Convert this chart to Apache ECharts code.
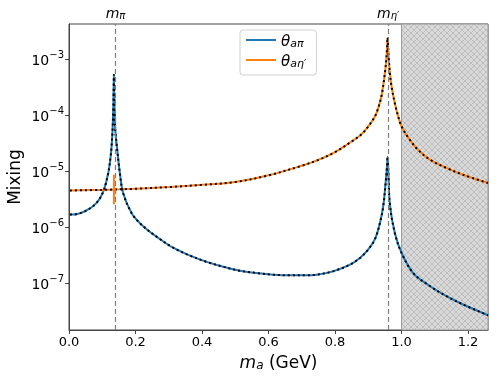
<!DOCTYPE html>
<html>
<head>
<meta charset="utf-8">
<script src="https://cdn.jsdelivr.net/npm/echarts@6/dist/echarts.min.js"></script>
<style>
html,body{margin:0;padding:0;background:#fff;}
#main{width:498px;height:380px;}
</style>
</head>
<body>
<div id="main"></div>
<script>
// axion - pion mixing (blue)
var piMass = [0.003, 0.010, 0.048, 0.083, 0.103, 0.118, 0.125, 0.128, 0.131, 0.133, 0.134, 0.135,
	0.136, 0.137, 0.139, 0.143, 0.153, 0.163, 0.188, 0.213, 0.24, 0.26, 0.313, 0.364, 0.414,
	0.464, 0.514, 0.564, 0.614, 0.664, 0.714, 0.745, 0.794, 0.845, 0.875, 0.900, 0.920, 0.935,
	0.945, 0.953, 0.956, 0.958, 0.960, 0.965, 0.980, 1.000, 1.035, 1.085, 1.135, 1.185, 1.26];
var piMixing = [1.70e-6, 1.70e-6, 1.95e-6, 2.75e-6, 4.37e-6, 9.3e-6, 1.8e-5, 2.75e-5, 5.6e-5, 1.23e-4, 2.5e-4, 5.25e-4,
	2.5e-4, 1.23e-4, 5.6e-5, 3.16e-5, 9.3e-6, 4.07e-6, 1.82e-6, 1.20e-6, 8.7e-7, 7.1e-7, 4.37e-7, 3.16e-7, 2.45e-7,
	2.0e-7, 1.70e-7, 1.55e-7, 1.45e-7, 1.41e-7, 1.41e-7, 1.45e-7, 1.66e-7, 2.19e-7, 2.88e-7, 4.07e-7, 6.2e-7, 1.20e-6,
	2.40e-6, 7.1e-6, 1.15e-5, 1.82e-5, 1.1e-5, 2.57e-6, 7.9e-7, 3.55e-7, 1.55e-7, 9.1e-8, 6.0e-8, 4.27e-8, 2.75e-8];

// axion - eta' mixing (orange)
var etaMass = [0.003, 0.1, 0.2, 0.3, 0.4, 0.5, 0.6, 0.7, 0.75, 0.8, 0.85, 0.88, 0.9, 0.92, 0.93, 0.94,
	0.95, 0.955, 0.958, 0.961, 0.965, 0.97, 0.98, 0.99, 1.0, 1.025, 1.05, 1.085, 1.135, 1.185, 1.26];
var etaMixing = [4.57e-6, 4.68e-6, 4.9e-6, 5.25e-6, 5.75e-6, 6.46e-6, 8.5e-6, 1.26e-5, 1.6e-5, 2.2e-5, 3.4e-5, 4.6e-5, 6.3e-5, 9.5e-5, 1.35e-4, 2.24e-4,
	5.6e-4, 1.12e-3, 2.4e-3, 1.12e-3, 5.6e-4, 3.24e-4, 1.62e-4, 9.5e-5, 6.3e-5, 3.63e-5, 2.4e-5, 1.62e-5, 1.15e-5, 8.7e-6, 6.2e-6];

// little numerical spike of the eta' curve at the pion mass
var glitchMass = [0.1349, 0.135, 0.135, 0.1351];
var glitchMixing = [4.7e-6, 8.7e-6, 2.6e-6, 4.7e-6];

var xTicks = [0.0, 0.2, 0.4, 0.6, 0.8, 1.0, 1.2];
var yTicks = [1e-7, 1e-6, 1e-5, 1e-4, 1e-3];
var mesonMass = [0.135, 0.958];
var mesonName = ['π', 'η′'];
var excludedFrom = 1.0;

function pairs(xs, ys){
	var out = [];
	for (var i = 0; i < xs.length; i++) {
		out.push([xs[i], ys[i]]);
	}
	return out;
}

/**
 * crosshatch pattern for the excluded region
 */
function hatch(){
	var c = document.createElement('canvas');
	c.width = 6; c.height = 6;
	var ctx = c.getContext('2d');
	ctx.fillStyle = '#d9d9d9';
	ctx.fillRect(0, 0, 6, 6);
	ctx.strokeStyle = '#b8b8b8';
	ctx.lineWidth = 0.8;
	ctx.beginPath();
	ctx.moveTo(0, 0); ctx.lineTo(6, 6);
	ctx.moveTo(6, 0); ctx.lineTo(0, 6);
	ctx.stroke();
	return c;
}

var piData = pairs(piMass, piMixing);
var etaData = pairs(etaMass, etaMixing);
var etaWithGlitch = etaData.concat(pairs(glitchMass, glitchMixing)).sort(function(a, b){ return a[0] - b[0]; });

var mathRich = {
	i: {fontFamily: 'DejaVu Sans', fontStyle: 'italic', fontSize: 15, lineHeight: 20, verticalAlign: 'bottom', color: '#000'},
	s: {fontFamily: 'DejaVu Sans', fontStyle: 'italic', fontSize: 11, lineHeight: 11, verticalAlign: 'bottom', color: '#000'}
};

var dom = document.getElementById('main');
var myChart = echarts.init(dom, null, {renderer: 'canvas'});
var option = {
	animation: false,
	backgroundColor: '#fff',
	grid: {left: 69, right: 10, top: 24, bottom: 50, show: true, borderColor: '#444', borderWidth: 1, outerBoundsMode: 'none'},
	legend: {
		data: ['θaπ', 'θaη′'],
		orient: 'vertical',
		left: 240, top: 30,
		padding: [5, 10, 5, 6],
		itemGap: 5,
		itemWidth: 30, itemHeight: 2,
		icon: 'rect',
		borderColor: '#d0d0d0', borderWidth: 1, borderRadius: 3,
		backgroundColor: 'rgba(255,255,255,0.8)',
		formatter: function(name){
			return '{i|θ}{s|' + name.substring(1) + '}';
		},
		textStyle: {rich: mathRich}
	},
	xAxis: {
		type: 'value',
		min: 0, max: 1.26, interval: 0.2,
		name: '{i|m}{s|a}{n| (GeV)}',
		nameLocation: 'middle', nameGap: 20,
		nameMoveOverlap: false,
		nameTextStyle: {
			rich: {
				i: {fontFamily: 'DejaVu Sans', fontStyle: 'italic', fontSize: 17, lineHeight: 22, verticalAlign: 'bottom', color: '#000'},
				s: {fontFamily: 'DejaVu Sans', fontStyle: 'italic', fontSize: 12, lineHeight: 14, verticalAlign: 'bottom', color: '#000'},
				n: {fontFamily: 'DejaVu Sans', fontSize: 17, lineHeight: 22, verticalAlign: 'bottom', color: '#000'}
			}
		},
		axisLine: {lineStyle: {color: '#444', width: 1}},
		axisTick: {length: 4, lineStyle: {color: '#444'}},
		axisLabel: {
			showMaxLabel: false,
			fontFamily: 'DejaVu Sans', fontSize: 13, color: '#000', margin: 6,
			formatter: function(v){ return v.toFixed(1); }
		},
		splitLine: {show: false}
	},
	yAxis: {
		type: 'log', logBase: 10,
		min: 1.5e-8, max: 4.2e-3,
		name: 'Mixing',
		nameLocation: 'middle', nameGap: 45,
		nameMoveOverlap: false,
		nameTextStyle: {fontFamily: 'DejaVu Sans', fontSize: 17, color: '#000'},
		axisLine: {show: true, lineStyle: {color: '#444', width: 1}},
		axisTick: {length: 4, lineStyle: {color: '#444'}},
		axisLabel: {
			showMinLabel: false, showMaxLabel: false,
			margin: 5,
			formatter: function(v){
				var e = Math.round(Math.log(v) / Math.LN10);
				return '{b|10}{e|−' + (-e) + '}';
			},
			rich: {
				b: {fontFamily: 'DejaVu Sans', fontSize: 14, lineHeight: 18, verticalAlign: 'bottom', color: '#000'},
				e: {fontFamily: 'DejaVu Sans', fontSize: 10, lineHeight: 11, verticalAlign: 'top', color: '#000'}
			}
		},
		splitLine: {show: false}
	},
	series: [
		{
			name: 'θaπ', type: 'line', data: piData,
			showSymbol: false, symbol: 'none', z: 3,
			smooth: 0.35,
			lineStyle: {color: '#1f77b4', width: 2}, itemStyle: {color: '#1f77b4'},
			markArea: {
				silent: true,
				itemStyle: {color: {image: hatch(), repeat: 'repeat'}, borderColor: '#9a9a9a', borderWidth: 1},
				data: [[{xAxis: excludedFrom}, {xAxis: 1.26}]]
			},
			markLine: {
				silent: true, symbol: 'none',
				lineStyle: {color: '#7f7f7f', type: [5, 3], width: 1.2},
				label: {
					position: 'end', distance: 3,
					formatter: function(p){ return '{i|m}{s|' + mesonName[p.dataIndex] + '}'; },
					rich: {
						i: {fontFamily: 'DejaVu Sans', fontStyle: 'italic', fontSize: 14, lineHeight: 17, verticalAlign: 'bottom', color: '#000'},
						s: {fontFamily: 'DejaVu Sans', fontStyle: 'italic', fontSize: 10, lineHeight: 10, verticalAlign: 'bottom', color: '#000'}
					}
				},
				data: mesonMass.map(function(m){ return {xAxis: m}; })
			}
		},
		{
			name: 'θaη′', type: 'line', data: etaWithGlitch,
			showSymbol: false, symbol: 'none', z: 3,
			smooth: 0.35,
			lineStyle: {color: '#ff7f0e', width: 2}, itemStyle: {color: '#ff7f0e'}
		},
		{
			name: 'piApprox', type: 'line', data: piData,
			showSymbol: false, symbol: 'none', z: 4,
			smooth: 0.35,
			lineStyle: {color: '#000', width: 2, type: [2, 3], cap: 'butt'}
		},
		{
			name: 'etaApprox', type: 'line', data: etaData,
			showSymbol: false, symbol: 'none', z: 4,
			smooth: 0.35,
			lineStyle: {color: '#000', width: 2, type: [2, 3], cap: 'butt'}
		}
	]
};
if (option && typeof option === 'object') {
	myChart.setOption(option, true);
}
</script>
</body>
</html>
